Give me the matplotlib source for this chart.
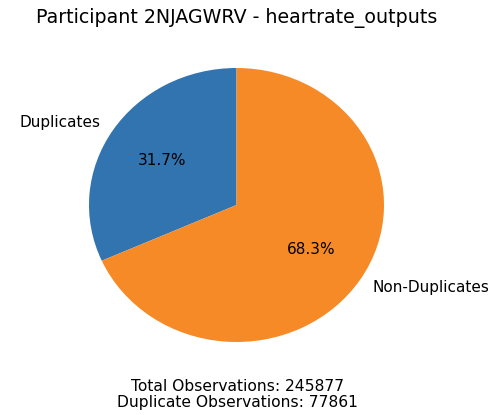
import matplotlib
matplotlib.use("Agg")
import matplotlib.pyplot as plt

# data
labels = ["Duplicates", "Non-Duplicates"]
counts = [77861, 245877 - 77861]
total_obs = 245877
dup_obs = 77861
colors = ["#3274b0", "#f68a26"]

fig = plt.figure(figsize=(4.95, 4.15), dpi=100)
# the reference pie is slightly squashed vertically, so no equal aspect here
ax = fig.add_axes([89 / 495, 73 / 415, 295 / 495, 274 / 415])
ax.pie(counts, labels=labels, colors=colors, autopct="%1.1f%%", startangle=90,
       textprops={"fontsize": 11})
ax.set_xlim(-1, 1)
ax.set_ylim(-1, 1)
ax.set_aspect("auto")

fig.text(0.479, 0.956, "Participant 2NJAGWRV - heartrate_outputs", ha="center",
         va="center", fontsize=13.7)
fig.text(0.479, 1 - 386 / 415, "Total Observations: %d" % total_obs,
         ha="center", va="center", fontsize=11.2)
fig.text(0.479, 1 - 402 / 415, "Duplicate Observations: %d" % dup_obs,
         ha="center", va="center", fontsize=11.2)

fig.savefig("out.png", dpi=100)
